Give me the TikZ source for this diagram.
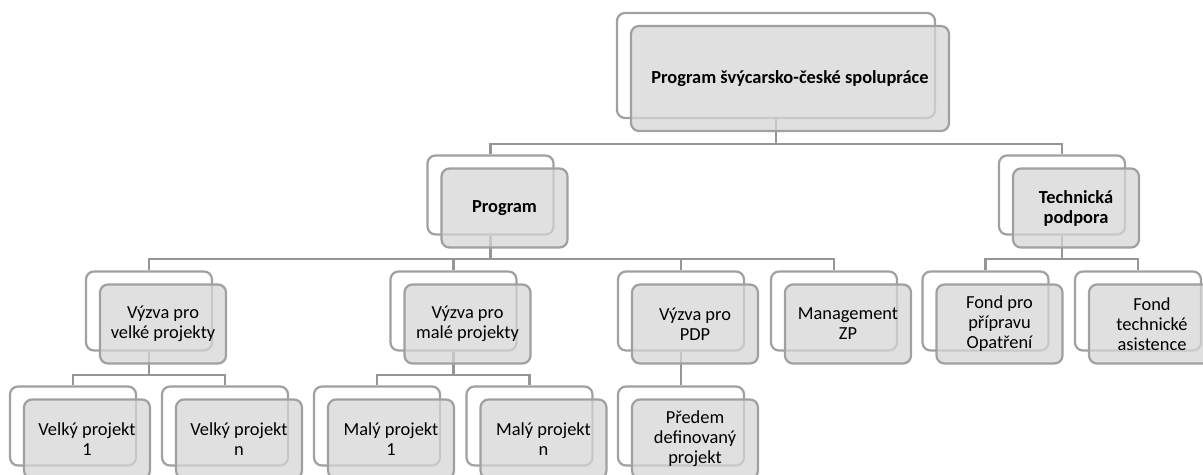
\documentclass[tikz,border=0pt]{standalone}
\usepackage{fontspec}
\setmainfont{Carlito}
\usepackage{tikz}
\usetikzlibrary{calc,backgrounds}
\definecolor{framegray}{RGB}{160,160,160}
\definecolor{linegray}{RGB}{150,150,150}
\definecolor{boxgray}{RGB}{214,214,214}
\tikzset{
 back box/.style={draw=framegray, line width=1.1pt, fill=white, rounded corners=4pt, minimum width=63pt, minimum height=39.5pt, inner sep=0pt},
 front box/.style={draw=framegray, line width=1.1pt, fill=boxgray, fill opacity=.75, text opacity=1, rounded corners=4pt, minimum width=63pt, minimum height=39.5pt, inner sep=0pt, align=center, font=\fontsize{9.2}{10}\selectfont},
 link/.style={draw=linegray, line width=1.3pt}
}
\newcommand{\orgbox}[4][]{
 \node[back box, #1] (#2-back) at #3 {};
 \node[front box, #1] (#2) at ($ #3 + (14,13) $) {#4};
}

\begin{document}
\begin{tikzpicture}[x=0.5pt, y=-0.5pt]
 \useasboundingbox (0,0) rectangle (1203,475);
%
 \orgbox[minimum width=159pt, minimum height=52.5pt]{top}{(776,65.5)}{\textbf{Program švýcarsko-české spolupráce}}
%
 \orgbox{prog}{(490.5,195)}{\textbf{Program}}
 \orgbox{tech}{(1062,195)}{\textbf{Technická}\\\textbf{podpora}}
%
 \orgbox{velke}{(149,311)}{Výzva pro\\velké projekty}
 \orgbox{male}{(453.5,311)}{Výzva pro\\malé projekty}
 \orgbox{pdp}{(681,311)}{Výzva pro\\PDP}
 \orgbox{mgmt}{(834,311)}{Management\\ZP}
 \orgbox{fondp}{(985.5,311)}{Fond pro\\přípravu\\Opatření}
 \orgbox{fondt}{(1138,311)}{Fond\\technické\\asistence}
%
 \orgbox{vel1}{(73,426)}{Velký projekt\\1}
 \orgbox{veln}{(225,426)}{Velký projekt\\n}
 \orgbox{mal1}{(377,426)}{Malý projekt\\1}
 \orgbox{maln}{(529.5,426)}{Malý projekt\\n}
 \orgbox{predem}{(681,426)}{Předem\\definovaný\\projekt}
%
 \coordinate (bus1) at (0,144);
 \coordinate (bus2) at (0,259);
 \coordinate (bus3) at (0,375);
 \begin{scope}[on background layer]
 \draw[link] (top-back.south) -- (top-back.south |- bus1) -| (prog-back.north);
 \draw[link] (top-back.south |- bus1) -| (tech-back.north);
 \foreach \c in {velke,male,pdp,mgmt}
  \draw[link] (prog-back.south) -- (prog-back.south |- bus2) -| (\c-back.north);
 \foreach \c in {fondp,fondt}
  \draw[link] (tech-back.south) -- (tech-back.south |- bus2) -| (\c-back.north);
 \foreach \c in {vel1,veln}
  \draw[link] (velke-back.south) -- (velke-back.south |- bus3) -| (\c-back.north);
 \foreach \c in {mal1,maln}
  \draw[link] (male-back.south) -- (male-back.south |- bus3) -| (\c-back.north);
 \draw[link] (pdp-back.south) -- (predem-back.north);
 \end{scope}
\end{tikzpicture}
\end{document}
